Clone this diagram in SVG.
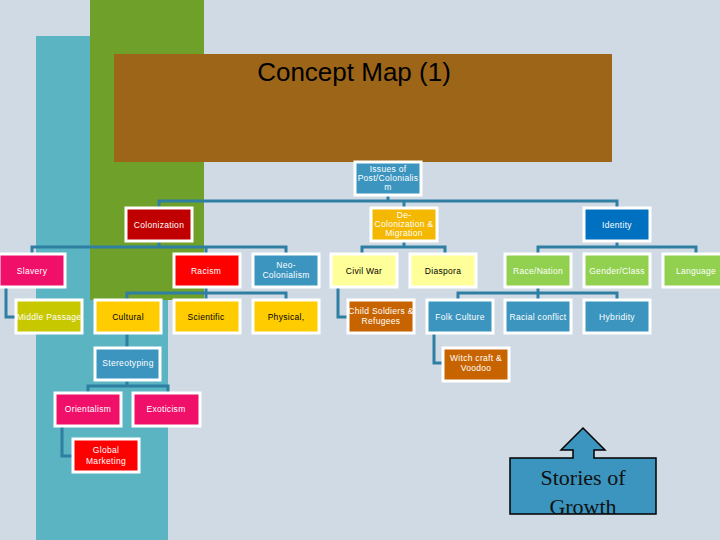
<svg xmlns="http://www.w3.org/2000/svg" width="720" height="540" viewBox="0 0 720 540">
<defs>
<style>
.n{stroke:#fff;stroke-width:3}
.t{font-family:"Liberation Sans",Arial,sans-serif;font-size:8.5px;text-anchor:middle;fill:#fff;letter-spacing:0.3px}
.k{fill:#000}
.c{fill:none;stroke:#2f7fa3;stroke-width:3}
</style>
<clipPath id="cl"><rect x="510" y="458" width="146" height="56"/></clipPath>
</defs>
<rect width="720" height="540" fill="#d0dae4"/>
<rect x="36" y="36" width="132" height="504" fill="#5ab4c1"/>
<rect x="90" y="0" width="114" height="300" fill="#6fa02a"/>
<rect x="114" y="54" width="498" height="108" fill="#9c6518"/>
<text x="354" y="81" font-family="Liberation Sans,Arial,sans-serif" font-size="26" text-anchor="middle">Concept Map (1)</text>
<g id="connectors">
<path class="c" d="M388 195V201M159 207V201H617V207M404 201V207"/>
<path class="c" d="M159 241V247M32 253V247H286V253M206 247V253"/>
<path class="c" d="M6 288V317H15"/>
<path class="c" d="M206 288V293M127 299V293H286V299M206 293V299"/>
<path class="c" d="M127 334V347M127 380V386M88 392V386H168V392"/>
<path class="c" d="M62 426V456H72"/>
<path class="c" d="M404 241V247M362 253V247H445V253"/>
<path class="c" d="M338 288V317H347"/>
<path class="c" d="M617 241V247M538 253V247H696V253"/>
<path class="c" d="M538 288V293M458 299V293H617V299M538 293V299"/>
<path class="c" d="M434 334V363H442"/>
</g>
<g id="issues"><rect class="n" x="355" y="162" width="66" height="33" fill="#3b95bf"/><text class="t" x="388" y="172">Issues of</text><text class="t" x="388" y="181">Post/Colonialis</text><text class="t" x="388" y="190">m</text></g>
<g id="colonization"><rect class="n" x="126" y="208" width="66" height="33" fill="#c00000"/><text class="t" x="159" y="228">Colonization</text></g>
<g id="decol"><rect class="n" x="371" y="208" width="66" height="33" fill="#f5b800"/><text class="t" x="404" y="218">De-</text><text class="t" x="404" y="227">Colonization &amp;</text><text class="t" x="404" y="236">Migration</text></g>
<g id="identity"><rect class="n" x="584" y="208" width="66" height="33" fill="#0070c0"/><text class="t" x="617" y="228">Identity</text></g>
<g id="slavery"><rect class="n" x="-1" y="254" width="66" height="33" fill="#f0106a"/><text class="t" x="32" y="274">Slavery</text></g>
<g id="racism"><rect class="n" x="174" y="254" width="66" height="33" fill="#ff0000"/><text class="t" x="206" y="274">Racism</text></g>
<g id="neo"><rect class="n" x="253" y="254" width="66" height="33" fill="#3b95bf"/><text class="t" x="286" y="268">Neo-</text><text class="t" x="286" y="278">Colonialism</text></g>
<g id="civilwar"><rect class="n" x="331" y="254" width="66" height="33" fill="#ffff99"/><text class="t k" x="364" y="274">Civil War</text></g>
<g id="diaspora"><rect class="n" x="410" y="254" width="66" height="33" fill="#ffff99"/><text class="t k" x="443" y="274">Diaspora</text></g>
<g id="race"><rect class="n" x="505" y="254" width="66" height="33" fill="#92d050"/><text class="t" x="538" y="274">Race/Nation</text></g>
<g id="gender"><rect class="n" x="584" y="254" width="66" height="33" fill="#92d050"/><text class="t" x="617" y="274">Gender/Class</text></g>
<g id="language"><rect class="n" x="663" y="254" width="66" height="33" fill="#92d050"/><text class="t" x="696" y="274">Language</text></g>
<g id="middle"><rect class="n" x="16" y="300" width="66" height="33" fill="#c8c800"/><text class="t" x="49" y="320">Middle Passage</text></g>
<g id="cultural"><rect class="n" x="95" y="300" width="66" height="33" fill="#ffcc00"/><text class="t k" x="128" y="320">Cultural</text></g>
<g id="scientific"><rect class="n" x="174" y="300" width="66" height="33" fill="#ffcc00"/><text class="t k" x="206" y="320">Scientific</text></g>
<g id="physical"><rect class="n" x="253" y="300" width="66" height="33" fill="#ffcc00"/><text class="t k" x="286" y="320">Physical,</text></g>
<g id="child"><rect class="n" x="348" y="300" width="66" height="33" fill="#c86400"/><text class="t" x="381" y="314">Child Soldiers &amp;</text><text class="t" x="381" y="324">Refugees</text></g>
<g id="folk"><rect class="n" x="427" y="300" width="66" height="33" fill="#3b95bf"/><text class="t" x="460" y="320">Folk Culture</text></g>
<g id="racial"><rect class="n" x="505" y="300" width="66" height="33" fill="#3b95bf"/><text class="t" x="538" y="320">Racial conflict</text></g>
<g id="hybridity"><rect class="n" x="584" y="300" width="66" height="33" fill="#3b95bf"/><text class="t" x="617" y="320">Hybridity</text></g>
<g id="witch"><rect class="n" x="443" y="348" width="66" height="33" fill="#c86400"/><text class="t" x="476" y="361">Witch craft &amp;</text><text class="t" x="476" y="371">Voodoo</text></g>
<g id="stereo"><rect class="n" x="95" y="348" width="65" height="32" fill="#3b95bf"/><text class="t" x="128" y="366">Stereotyping</text></g>
<g id="orient"><rect class="n" x="55" y="393" width="66" height="33" fill="#f0106a"/><text class="t" x="88" y="412">Orientalism</text></g>
<g id="exotic"><rect class="n" x="133" y="393" width="67" height="33" fill="#f0106a"/><text class="t" x="166" y="412">Exoticism</text></g>
<g id="global"><rect class="n" x="73" y="439" width="66" height="33" fill="#ff0000"/><text class="t" x="106" y="453">Global</text><text class="t" x="106" y="464">Marketing</text></g>
<g id="stories">
<path d="M510 458H573V450H561L583 428L605 450H594V458H656V514H510Z" fill="#3b95bf" stroke="#000" stroke-width="1.5"/>
<g clip-path="url(#cl)" font-family="Liberation Serif,serif" font-size="22" text-anchor="middle" fill="#111"><text x="583" y="485">Stories of</text><text x="583" y="514">Growth</text></g>
</g>
</svg>
